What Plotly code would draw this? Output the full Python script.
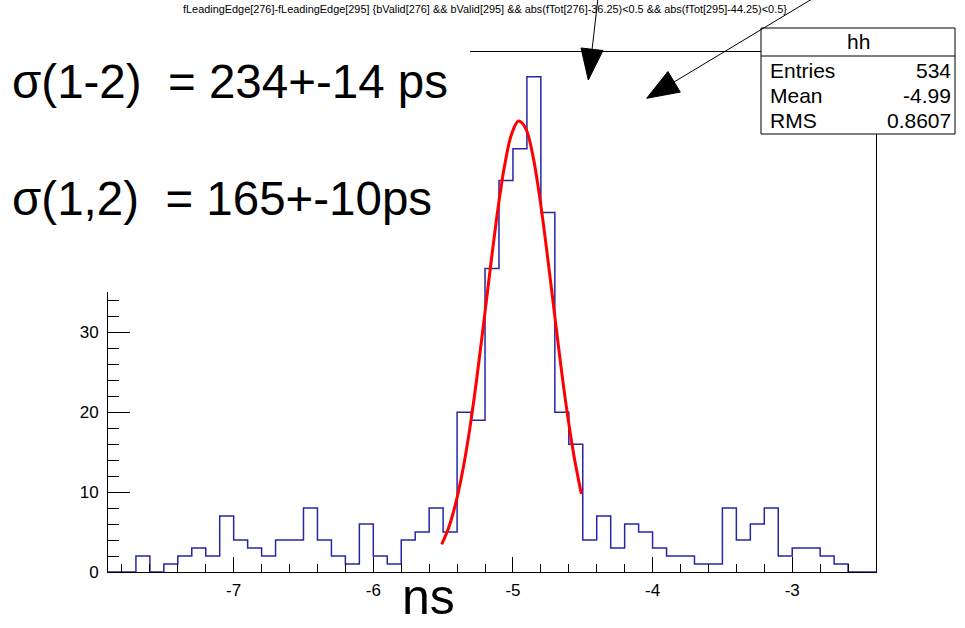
import plotly.graph_objects as go

# ---------------- data ----------------
x_min = -7.9
bin_width = 0.1
counts = [0, 0, 2, 0, 1, 2, 3, 2, 7, 4,
          3, 2, 4, 4, 8, 4, 2, 1, 6, 2,
          1, 4, 5, 8, 5, 20, 19, 38, 49, 53,
          62, 45, 20, 16, 4, 7, 3, 6, 5, 3,
          2, 2, 1, 1, 8, 4, 6, 8, 2, 3,
          3, 2, 1, 0, 0]

fit_x = [-5.51, -5.46, -5.41, -5.36, -5.31, -5.26, -5.21, -5.16, -5.11, -5.06,
         -5.01, -4.96, -4.91, -4.86, -4.81, -4.76, -4.71, -4.66, -4.61, -4.56, -4.51]
fit_y = [3.45, 5.57, 8.59, 12.68, 17.85, 24.10, 31.10, 38.31, 45.14, 50.85,
         54.81, 56.47, 55.60, 52.38, 47.12, 40.57, 33.43, 26.27, 19.78, 14.24, 9.77]

x_ticks = [-7, -6, -5, -4, -3]
x_tick_text = ["-7", "-6", "-5", "-4", "-3"]
y_ticks = [0, 10, 20, 30]
y_tick_text = ["0", "10", "20", "30"]

hist_name = "hh"
stats_labels = ["Entries", "Mean", "RMS"]
stats_values = ["534", "-4.99", "0.8607"]

title_text = ("fLeadingEdge[276]-fLeadingEdge[295] {bValid[276] && bValid[295] && "
              "abs(fTot[276]-36.25)<0.5 && abs(fTot[295]-44.25)<0.5}")
sigma_lines = ["σ(1-2)\u00a0\u00a0= 234+-14 ps", "σ(1,2)\u00a0\u00a0= 165+-10ps"]
x_title = "ns"

# ---------------- layout geometry ----------------
W_PX, H_PX = 965, 628
L, R, T, B = 108, 876, 52, 572
FONT = "Liberation Sans, Arial, sans-serif"


def px(x):
    return (x - L) / (R - L)


def py(y):
    return (B - y) / (B - T)


n_bins = len(counts)
edges = [x_min + i * bin_width for i in range(n_bins + 1)]
x_max = edges[-1]
y_max = 1.05 * max(counts)

fig = go.Figure()
fig.add_trace(go.Scatter(
    x=edges, y=counts + [counts[-1]], mode="lines", line_shape="hv",
    line=dict(color="#2626a6", width=1.5), hoverinfo="skip", showlegend=False))
fig.add_trace(go.Scatter(
    x=fit_x, y=fit_y, mode="lines", line_shape="spline",
    line=dict(color="#ff0000", width=3), hoverinfo="skip", showlegend=False))

fig.update_xaxes(
    range=[x_min, x_max], showline=True, linecolor="black", linewidth=1,
    mirror=True, showgrid=False, zeroline=False,
    tickmode="array", tickvals=x_ticks, ticktext=x_tick_text,
    ticks="inside", ticklen=15, tickwidth=1, tickcolor="black",
    ticklabelstandoff=3,
    minor=dict(dtick=0.2, tick0=0, ticks="inside", ticklen=8, tickwidth=1,
               tickcolor="black", showgrid=False),
    tickfont=dict(family=FONT, size=17, color="black"))
fig.update_yaxes(
    range=[0, y_max], showline=True, linecolor="black", linewidth=1,
    mirror=True, showgrid=False, zeroline=False,
    tickmode="array", tickvals=y_ticks, ticktext=y_tick_text,
    ticks="inside", ticklen=22, tickwidth=1, tickcolor="black",
    ticklabelstandoff=5,
    minor=dict(dtick=2, tick0=0, ticks="inside", ticklen=11, tickwidth=1,
               tickcolor="black", showgrid=False),
    tickfont=dict(family=FONT, size=17, color="black"))

shapes = []
# white pave behind the sigma text (hides upper part of frame)
shapes.append(dict(type="rect", xref="paper", yref="paper",
                   x0=px(-60), x1=px(470), y0=py(292), y1=py(-20),
                   fillcolor="white", line=dict(width=0), layer="above"))
# stats box
shapes.append(dict(type="rect", xref="paper", yref="paper",
                   x0=px(761), x1=px(955), y0=py(134), y1=py(28),
                   fillcolor="white", line=dict(color="black", width=1), layer="above"))
shapes.append(dict(type="line", xref="paper", yref="paper",
                   x0=px(761), x1=px(955), y0=py(56), y1=py(56),
                   line=dict(color="black", width=1), layer="above"))
# arrow 1
shapes.append(dict(type="line", xref="paper", yref="paper",
                   x0=px(598), y0=py(-2), x1=px(592), y1=py(50),
                   line=dict(color="black", width=1), layer="above"))
shapes.append(dict(type="path", xref="paper", yref="paper",
                   path=f"M {px(588.3)} {py(80)} L {px(603)} {py(50.5)} L {px(581)} {py(48)} Z",
                   fillcolor="black", line=dict(color="black", width=1), layer="above"))
# arrow 2
shapes.append(dict(type="line", xref="paper", yref="paper",
                   x0=px(812), y0=py(-1), x1=px(674), y1=py(82),
                   line=dict(color="black", width=1), layer="above"))
shapes.append(dict(type="path", xref="paper", yref="paper",
                   path=f"M {px(646.7)} {py(98.3)} L {px(680.3)} {py(92.1)} L {px(667.9)} {py(71.5)} Z",
                   fillcolor="black", line=dict(color="black", width=1), layer="above"))

ann = []
ann.append(dict(text=title_text, xref="paper", yref="paper", x=px(485), y=py(9),
                xanchor="center", yanchor="middle", showarrow=False,
                font=dict(family=FONT, size=10.9, color="black")))
for txt, yc in zip(sigma_lines, [81, 198]):
    ann.append(dict(text=txt, xref="paper", yref="paper", x=px(10), y=py(yc),
                    xanchor="left", yanchor="middle", showarrow=False,
                    font=dict(family=FONT, size=47.5, color="black")))
ann.append(dict(text=hist_name, xref="paper", yref="paper", x=px(858), y=py(41),
                xanchor="center", yanchor="middle", showarrow=False,
                font=dict(family=FONT, size=21, color="black")))
for lab, val, yc in zip(stats_labels, stats_values, [70, 95, 121]):
    ann.append(dict(text=lab, xref="paper", yref="paper", x=px(768), y=py(yc),
                    xanchor="left", yanchor="middle", showarrow=False,
                    font=dict(family=FONT, size=21, color="black")))
    ann.append(dict(text=val, xref="paper", yref="paper", x=px(953), y=py(yc),
                    xanchor="right", yanchor="middle", showarrow=False,
                    font=dict(family=FONT, size=21, color="black")))
ann.append(dict(text=x_title, xref="paper", yref="paper", x=px(428), y=py(597),
                xanchor="center", yanchor="middle", showarrow=False,
                font=dict(family=FONT, size=50, color="black")))

fig.update_layout(
    width=W_PX, height=H_PX,
    margin=dict(l=L, r=W_PX - R, t=T, b=H_PX - B, pad=0),
    paper_bgcolor="white", plot_bgcolor="white",
    font=dict(family=FONT, color="black"),
    shapes=shapes, annotations=ann, showlegend=False)

fig.write_html("out.html")
